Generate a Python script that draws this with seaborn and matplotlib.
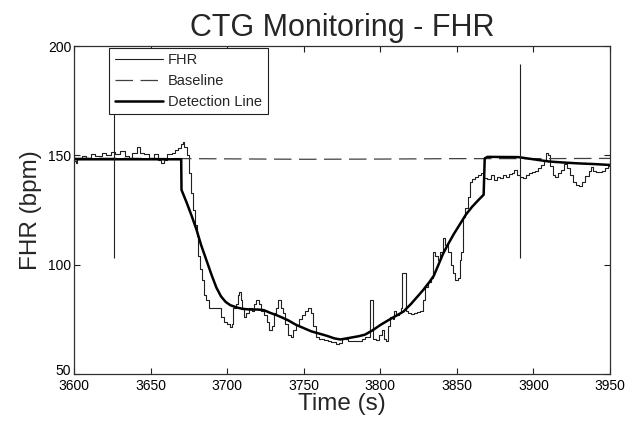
import matplotlib
matplotlib.use('Agg')
import matplotlib.pyplot as plt
import matplotlib.transforms as mtransforms
import seaborn as sns

# FHR trace (s, bpm)
fhr_time = [3600, 3601, 3602, 3605, 3608, 3611, 3614, 3618, 3621, 3624, 3627, 3630, 3633, 3636, 3638,
            3641, 3643, 3646, 3649, 3652, 3655, 3657, 3659, 3661, 3664, 3666, 3668, 3670, 3671, 3672,
            3673.5, 3675, 3676.5, 3678, 3679, 3680, 3681, 3682, 3683.5, 3685, 3686, 3688, 3690, 3693,
            3695, 3696, 3698, 3700, 3702, 3703, 3704, 3705.5, 3707, 3708, 3709, 3710, 3711, 3712.5, 3714,
            3716, 3717.5, 3719, 3720.5, 3722, 3724, 3726, 3727.5, 3729, 3730.5, 3732, 3733.5, 3735, 3736.5,
            3738, 3740, 3741.5, 3743, 3745, 3747, 3749, 3751, 3753, 3754.5, 3756, 3758, 3760, 3763, 3766,
            3768, 3771, 3773, 3775, 3777, 3779, 3782, 3785, 3788, 3790, 3792, 3793, 3794.5, 3795, 3797,
            3799, 3801, 3802.5, 3803.5, 3805, 3806.5, 3808, 3809, 3810.5, 3812, 3813.5, 3814.5, 3816,
            3816.5, 3818, 3820, 3822, 3824, 3826, 3828, 3829.5, 3831, 3833, 3834.5, 3836, 3837.5, 3839,
            3841, 3842.5, 3844, 3846, 3847.5, 3849, 3850.5, 3852, 3853, 3854, 3855.5, 3857, 3858.5, 3860,
            3862, 3864, 3866, 3867, 3868, 3870, 3872, 3874, 3876, 3878, 3880, 3882, 3884, 3886, 3887, 3889,
            3891, 3893, 3895, 3897, 3899, 3901, 3903, 3905, 3907, 3908.5, 3909.5, 3911, 3912.5, 3914, 3916,
            3918, 3920, 3922, 3924, 3926, 3928, 3930, 3932, 3934, 3936, 3937.5, 3939, 3941, 3943, 3945,
            3947, 3949, 3950]
fhr_bpm = [147.5, 146.5, 148.5, 149.5, 149, 150.5, 149.5, 151, 150, 151.5, 150.5, 152, 149.5, 149, 151,
           154, 151, 150.5, 149, 150.5, 148, 146.5, 148, 150.5, 151, 152.5, 153.5, 155, 156, 154,
           150, 142, 133, 125, 118, 113, 104, 98, 93, 86, 84, 80, 80, 80,
           80, 76, 74, 73, 71.5, 73, 80, 82, 86, 87.5, 84, 80, 76, 78, 80,
           79, 82, 84, 82, 79, 77, 74, 70, 72, 78, 80, 84, 80, 78,
           73, 68, 67, 70, 72.5, 75, 77, 79, 80, 78, 72, 67, 66, 65.5, 65,
           64.5, 63.5, 64, 66, 66, 65, 65, 65, 66, 67, 67, 84, 84, 66, 65.5,
           68, 70, 66, 65, 72, 76, 75, 79, 77, 78, 80, 96, 96,
           79, 78, 77.5, 78, 78.5, 79, 84, 90, 92, 94, 106, 104, 102, 106,
           112, 109, 106, 100, 96, 93, 94, 102, 106, 122, 126, 131, 138, 139,
           140, 141, 142, 141, 139.5, 139, 141, 138.5, 140, 139.5, 141, 140, 141.5, 142, 143.5, 141,
           140, 139.5, 141, 142, 142.5, 143, 144, 145.5, 148, 151, 150, 145, 141, 140, 142,
           143.5, 146, 144, 141, 138, 136.5, 136, 138, 140.5, 143, 144.5, 143, 142.5, 142.5, 143,
           144, 145, 145.5]

# baseline estimate
base_time = [3600, 3650, 3700, 3750, 3800, 3850, 3900, 3950]
base_bpm = [148.7, 148.6, 148.4, 148.2, 148.3, 148.5, 148.5, 148.6]

# detection line
det_time = [3600, 3670, 3670.2, 3673.5, 3677, 3680, 3683, 3686.5, 3690, 3693, 3696, 3699, 3702, 3706,
            3710, 3715, 3720, 3724, 3728, 3732, 3736, 3740, 3745, 3750, 3755, 3760, 3765, 3770, 3774,
            3778, 3782, 3786, 3790, 3795, 3800, 3805, 3810, 3815, 3820, 3825, 3828, 3832, 3835, 3838,
            3841, 3844, 3848, 3852, 3856, 3860, 3864, 3867.5, 3868.2, 3870, 3890, 3900, 3910, 3920,
            3930, 3940, 3950]
det_bpm = [148.2, 148.2, 134.2, 128.5, 122, 116, 109, 102, 95, 89.5, 85.5, 83, 81.5, 80.5,
           79.8, 79.5, 79.5, 79.2, 78, 77, 75.8, 74.5, 72.5, 71, 69.5, 68.5, 67.5, 66.3, 65.8,
           66.3, 66.8, 67.3, 68, 70, 72.4, 74.5, 76.5, 78.5, 82, 86, 88.4, 92, 95, 100,
           105, 109, 114, 118.5, 123, 126.5, 129.5, 132, 148.6, 149.3, 149.2, 148.2, 147.2, 146.7,
           146.3, 146, 145.6]

# event markers
marker_time = [3626, 3891]
marker_low = [103, 103]
marker_high = [169, 192]

sns.set_style('ticks')
plt.rcParams['font.family'] = ['Liberation Sans', 'DejaVu Sans']

fig = plt.figure(figsize=(6.39, 4.21), dpi=100)
ax = fig.add_axes([0.1158, 0.1116, 0.8388, 0.7791])

sns.lineplot(x=fhr_time, y=fhr_bpm, ax=ax, color='#202020', linewidth=0.8,
             estimator=None, sort=False, drawstyle='steps-post', label='FHR')
sns.lineplot(x=base_time, y=base_bpm, ax=ax, color='#404040', linewidth=0.9,
             estimator=None, sort=False, linestyle=(0, (14, 6)), label='Baseline')
sns.lineplot(x=det_time, y=det_bpm, ax=ax, color='black', linewidth=1.8,
             estimator=None, sort=False, label='Detection Line')
ax.vlines(marker_time, marker_low, marker_high, color='#202020', linewidth=0.8)

ax.set_xlim(3600, 3950)
ax.set_ylim(50, 200)
ax.set_xticks(range(3600, 3951, 50))
ax.set_yticks([50, 100, 150, 200])
ax.tick_params(direction='in', length=4, width=0.8, top=True, right=True,
               labelsize=10, colors='#202020', labelcolor='black')
ax.tick_params(axis='x', pad=3.5)
ax.tick_params(axis='y', pad=2)
for s in ax.spines.values():
    s.set_visible(True)
    s.set_color('#303030')
    s.set_linewidth(0.9)

# lift the bottom y label a little so it sits above "3600" like the original
lowest = ax.get_yticklabels()[0]
lowest.set_transform(lowest.get_transform() +
                     mtransforms.ScaledTranslation(0, 3 / 72, fig.dpi_scale_trans))

ax.set_title('CTG Monitoring - FHR', fontsize=22, pad=7)
ax.set_xlabel('Time (s)', fontsize=17.5, labelpad=0)
ax.set_ylabel('FHR (bpm)', fontsize=17.5, labelpad=4)

leg = ax.legend(loc='upper left', bbox_to_anchor=(0.065, 0.995), fontsize=10.5,
                frameon=True, fancybox=False, edgecolor='#202020', framealpha=1,
                handlelength=3.3, handletextpad=0.35, labelspacing=0.45,
                borderpad=0.4, borderaxespad=0)
leg.get_frame().set_linewidth(0.8)

fig.savefig('out.png', dpi=100)
